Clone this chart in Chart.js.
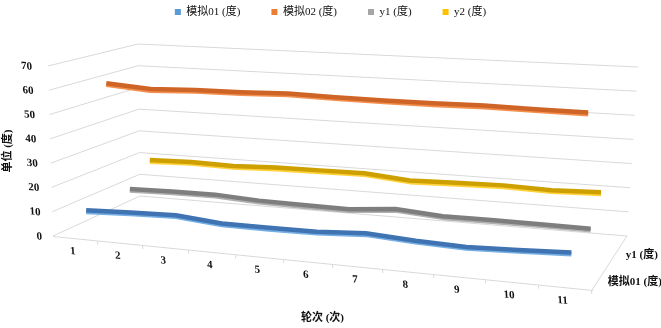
<!DOCTYPE html>
<html>
<head>
<meta charset="utf-8">
<script src="https://cdn.jsdelivr.net/npm/chart.js@4.4.1/dist/chart.umd.min.js"></script>
<style>
  html, body { margin: 0; padding: 0; background: #ffffff; }
  canvas { display: block; }
</style>
</head>
<body>
<canvas id="chart" width="661" height="328"></canvas>
<script>
// ---------------- data ----------------
const categories = ['1', '2', '3', '4', '5', '6', '7', '8', '9', '10', '11'];
const seriesNames = ['模拟01 (度)', '模拟02 (度)', 'y1 (度)', 'y2 (度)'];
const sim01 = [9.3, 10.1, 10.7, 9.1, 9.1, 9.3, 10.5, 9.4, 8.8, 9.5, 10.4];
const sim02 = [59.4, 58.1, 58.9, 59.2, 59.9, 59.6, 59.5, 59.6, 60.0, 59.8, 59.8];
const y1 = [10.1, 10.5, 10.7, 9.7, 9.4, 9.3, 11.0, 9.6, 9.7, 9.7, 9.6];
const y2 = [19.1, 19.6, 19.2, 19.9, 20.1, 20.3, 18.6, 19.1, 19.5, 19.0, 19.6];
const yTickValues = [0, 10, 20, 30, 40, 50, 60, 70];
const xTitle = '轮次 (次)';
const yTitle = '单位 (度)';

// ---------------- styling ----------------
const FONT_FAMILY = "'Liberation Serif', 'Times New Roman', 'Noto Sans CJK SC', serif";
const TEXT = '#111111';
const legendColors = ['#5B9BD5', '#ED7D31', '#A5A5A5', '#FFC000'];
const ribbonColors = ['#3F73B1', '#CF6427', '#7E7E7E', '#CDA000'];
const ribbonEdges  = ['#74AEE3', '#F39050', '#B0B0B0', '#FFD23C'];
const GRID = '#d9d9d9';
const LEGEND_TOP = -24.5;   // legend box top (its labels padding is wide)

// pseudo-3D view box (pixel offsets relative to the chart area)
const BOX = {
  flTopDx: -5,          // front-left top edge lean
  frDrop: 54,           // front floor edge drop from left to right
  frTopDx: 10,          // front-right vertical lean
  frScale: 1.106,       // front-right height relative to front-left
  blb: [87, -40], blt: [85, -22],
  brb: [35, 0],   brt: [46, 1],
  perspX: 1.114,        // left/right depth ratio
  perspDepth: 1.112,    // back/front depth ratio
  labelLean: 10         // horizontal lean of value labels over the full height
};

const warpX = u => u / (u + (1 - u) * BOX.perspX);
const unwarpX = t => t * BOX.perspX / (1 - t + t * BOX.perspX);
const depthOf = (i, n) => { const d = (i + 0.5) / n; return d * BOX.perspDepth / ((1 - d) + d * BOX.perspDepth); };

function project(area, t, w, d) {
  const L = area.left, R = area.right, T = area.top, B = area.bottom, H = B - T;
  const FLB = [L, B], FLT = [L + BOX.flTopDx, T];
  const FRB = [R, B + BOX.frDrop], FRT = [R + BOX.frTopDx, B + BOX.frDrop - H * BOX.frScale];
  const BLB = [L + BOX.blb[0], B + BOX.blb[1]], BLT = [L + BOX.blt[0], T + BOX.blt[1]];
  const BRB = [R + BOX.brb[0], B + BOX.brb[1]], BRT = [R + BOX.brt[0], T + BOX.brt[1]];
  const lerp = (p, q, s) => [p[0] + (q[0] - p[0]) * s, p[1] + (q[1] - p[1]) * s];
  const bottom = lerp(lerp(FLB, FRB, t), lerp(BLB, BRB, t), d);
  const top = lerp(lerp(FLT, FRT, t), lerp(BLT, BRT, t), d);
  return lerp(bottom, top, w);
}

// category axis whose spacing follows the perspective of the front floor edge
class PerspectiveCategoryScale extends Chart.CategoryScale {
  getPixelForDecimal(decimal) { return super.getPixelForDecimal(warpX(decimal)); }
  getDecimalForPixel(pixel) { return unwarpX(super.getDecimalForPixel(pixel)); }
}
PerspectiveCategoryScale.id = 'perspectiveCategory';
PerspectiveCategoryScale.defaults = Chart.CategoryScale.defaults;
Chart.register(PerspectiveCategoryScale);

const pseudo3d = {
  id: 'pseudo3d',
  afterLayout(chart) {
    const lg = chart.legend;
    if (lg) { lg.top = LEGEND_TOP; lg.bottom = LEGEND_TOP + lg.height; }
  },
  afterDatasetsUpdate(chart) {
    const area = chart.chartArea, ys = chart.scales.y;
    const n = chart.data.datasets.length;
    chart.getSortedVisibleDatasetMetas().forEach(meta => {
      const d = depthOf(meta.index, n);
      meta.data.forEach(pt => {
        const t = (pt.x - area.left) / area.width;
        const w = ys.getDecimalForPixel(pt.y);
        const p = project(area, t, w, d);
        pt.x = p[0]; pt.y = p[1];
      });
    });
  },
  beforeDatasetsDraw(chart) {
    const {ctx, chartArea: area, scales: {y: ys}} = chart;
    ctx.save();
    ctx.strokeStyle = GRID; ctx.lineWidth = 1;
    ys.ticks.forEach(tick => {
      const w = ys.getDecimalForPixel(ys.getPixelForValue(tick.value));
      const a = project(area, 0, w, 0), b = project(area, 0, w, 1), c = project(area, 1, w, 1);
      ctx.beginPath(); ctx.moveTo(a[0], a[1]); ctx.lineTo(b[0], b[1]); ctx.lineTo(c[0], c[1]); ctx.stroke();
    });
    const f = project(area, 1, 0, 0), g = project(area, 1, 0, 1);
    ctx.beginPath(); ctx.moveTo(f[0], f[1]); ctx.lineTo(g[0], g[1]); ctx.stroke();
    ctx.restore();
  },
  beforeDatasetDraw(chart, args) {
    const ctx = chart.ctx;
    ctx.save();
    ctx.shadowColor = ribbonEdges[args.index];
    ctx.shadowOffsetX = 0; ctx.shadowOffsetY = 1.6; ctx.shadowBlur = 0;
  },
  afterDatasetDraw(chart) { chart.ctx.restore(); },
  afterDatasetsDraw(chart) {
    // axes above the datasets (x edge, ticks and value labels) follow the front plane
    const {ctx, chartArea: area} = chart;
    const K = BOX.frDrop / area.width;
    const A = BOX.labelLean / area.height;
    ctx.save();
    ctx.transform(1, K, A, 1, -A * area.bottom, -K * area.left);
  },
  afterDraw(chart) {
    const {ctx, chartArea: area} = chart;
    ctx.restore();
    const n = chart.data.datasets.length;
    ctx.save();
    ctx.font = 'bold 11px ' + FONT_FAMILY;
    ctx.fillStyle = TEXT; ctx.textAlign = 'left'; ctx.textBaseline = 'middle';
    chart.data.datasets.forEach((ds, i) => {
      if (i % 2) return;
      const p = project(area, 1, 0, depthOf(i, n));
      ctx.fillText(ds.label, p[0] + 11, p[1]);
    });
    ctx.restore();
  }
};

const seriesValues = [sim01, sim02, y1, y2];
const font = { family: FONT_FAMILY, size: 11 };
const tickFont = { family: FONT_FAMILY, size: 11, weight: 'bold' };

new Chart(document.getElementById('chart'), {
  type: 'line',
  data: {
    labels: categories,
    datasets: seriesValues.map((vals, i) => ({
      label: seriesNames[i],
      data: vals,
      borderColor: ribbonColors[i],
      backgroundColor: legendColors[i],
      borderWidth: 4.5,
      borderCapStyle: 'butt',
      borderJoinStyle: 'round',
      pointRadius: 0,
      pointHoverRadius: 0,
      tension: 0,
      fill: false,
      clip: false
    }))
  },
  options: {
    responsive: false,
    animation: false,
    events: [],
    devicePixelRatio: 1,
    layout: { padding: { top: 0, left: 0, right: 0, bottom: 0 } },
    plugins: {
      tooltip: { enabled: false },
      legend: {
        position: 'top',
        labels: {
          boxWidth: 6, boxHeight: 6, padding: 31, font, color: TEXT,
          generateLabels: (chart) => Chart.defaults.plugins.legend.labels.generateLabels(chart)
            .map(l => Object.assign(l, { lineWidth: 0, strokeStyle: l.fillStyle }))
        }
      },
      title: {
        display: true, text: xTitle, position: 'bottom', fullSize: false,
        padding: { top: 45.8, bottom: 3 }, color: TEXT,
        font: { family: FONT_FAMILY, size: 11, weight: 'bold' }
      }
    },
    scales: {
      x: {
        type: 'perspectiveCategory',
        offset: true,
        grid: { display: true, drawOnChartArea: false, drawTicks: true, tickLength: 4, color: GRID, offset: true, z: 1 },
        border: { display: true, color: GRID, z: 1 },
        ticks: { z: 1, padding: 3, labelOffset: -3, maxRotation: 0, autoSkip: false, color: TEXT, font: tickFont },
        afterFit: (s) => { s.height = 30; s.paddingRight = 69; }
      },
      y: {
        type: 'linear', min: 0, max: 70,
        afterBuildTicks: (s) => { s.ticks = yTickValues.map(v => ({ value: v })); },
        grid: { display: false, drawTicks: false },
        border: { display: false },
        ticks: { z: 1, padding: 11, labelOffset: 2, color: TEXT, font: tickFont },
        title: { display: true, text: yTitle, padding: { top: 2, bottom: 2 }, color: TEXT,
                 font: { family: FONT_FAMILY, size: 11, weight: 'bold' } },
        afterFit: (s) => { s.width = 53; s.paddingTop = 66; }
      }
    }
  },
  plugins: [pseudo3d]
});
</script>
</body>
</html>
